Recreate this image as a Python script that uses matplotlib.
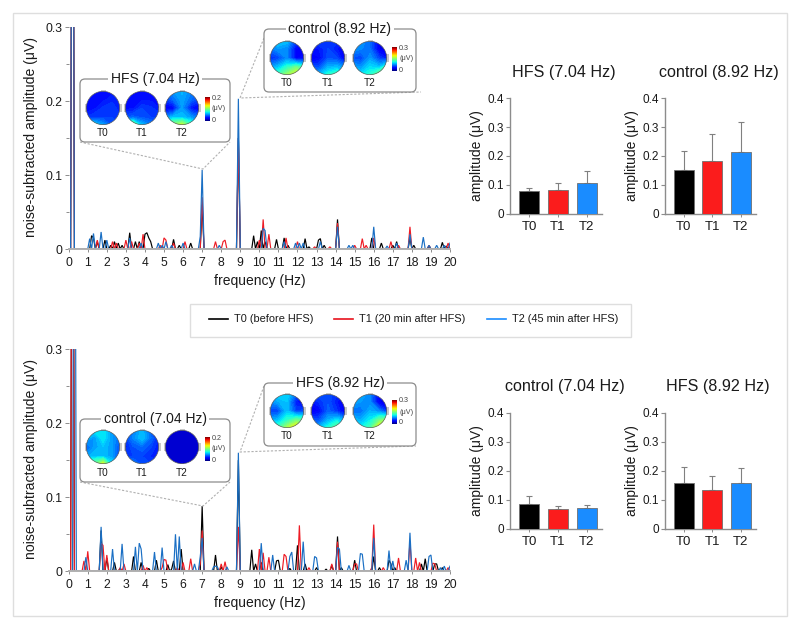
import numpy as np
import matplotlib
matplotlib.use("Agg")
import matplotlib.pyplot as plt
from matplotlib.patches import Circle, FancyBboxPatch, Rectangle

plt.rcParams["font.family"] = ["Liberation Sans", "DejaVu Sans"]

# spectra: peaks, everything else sits on the zero line
top_t0_f = [0.2, 1.2, 1.3, 1.5, 1.9, 2.2, 2.4, 2.6, 2.8, 3.2, 3.5, 3.7, 4.0, 4.1, 4.2, 4.3, 5.5, 5.8, 6.4, 7.0, 8.9,
            9.7, 9.9, 10.1, 10.3, 10.9, 11.3, 11.5, 12.4, 12.6, 13.1, 13.2, 13.4, 14.1, 15.9, 16.4, 17.0, 17.2, 17.9,
            18.1, 18.9, 19.6, 19.8]
top_t0_a = [900, 18, 15, 10, 12, 5, 10, 8, 5, 22, 10, 10, 20, 22, 15, 10, 13, 5, 8, 60, 150,
            18, 10, 25, 10, 13, 15, 5, 14, 3, 12, 14, 5, 40, 15, 8, 5, 10, 15,
            5, 4, 9, 4]
top_t1_f = [0.2, 1.5, 2.3, 2.5, 3.0, 3.3, 3.7, 3.9, 4.8, 5.0, 5.1, 5.5, 6.1, 7.0, 7.7, 8.1, 8.2, 8.9, 10.0, 10.2,
            10.5, 11.4, 12.0, 12.9, 13.7, 14.1, 15.0, 15.4, 15.6, 16.0, 16.9, 17.3, 17.9, 18.9, 19.9]
top_t1_a = [900, 12, 10, 8, 12, 10, 8, 20, 5, 15, 12, 8, 10, 70, 10, 10, 12, 150, 12, 40,
            20, 15, 10, 3, 3, 35, 5, 14, 5, 15, 10, 5, 30, 5, 8]
top_t2_f = [0.2, 1.1, 1.3, 1.7, 2.0, 3.2, 3.8, 4.7, 4.9, 5.1, 5.4, 6.0, 6.9, 7.0, 7.9, 8.9, 10.2, 10.3, 11.3, 11.9,
            12.1, 12.3, 13.2, 14.1, 14.7, 14.9, 16.0, 16.7, 17.2, 17.9, 18.6, 18.9, 19.3, 19.7, 20.0]
top_t2_a = [900, 14, 21, 23, 12, 15, 8, 8, 5, 10, 5, 8, 17, 107, 5, 203, 28, 25, 10, 8,
            8, 8, 10, 30, 5, 5, 30, 4, 8, 20, 16, 5, 5, 5, 8]

bot_t0_f = [0.2, 1.7, 2.0, 2.4, 2.7, 3.4, 3.8, 4.2, 4.6, 5.2, 5.4, 5.5, 5.9, 7.0, 7.7, 8.0, 8.9, 9.6, 9.8, 10.1, 10.9,
            11.0, 11.6, 12.0, 12.4, 13.0, 13.5, 13.8, 14.1, 14.3, 15.0, 16.0, 16.3, 16.8, 16.9, 17.1, 18.5, 18.7, 19.2,
            19.3, 19.6]
bot_t0_a = [900, 55, 18, 12, 4, 20, 12, 4, 15, 9, 3, 14, 30, 88, 22, 6, 150, 29, 10, 12, 14,
            15, 4, 35, 10, 5, 3, 8, 47, 5, 15, 20, 5, 15, 10, 5, 10, 17, 10,
            10, 5]
bot_t1_f = [0.2, 0.8, 1.0, 1.7, 1.8, 2.0, 2.7, 2.9, 3.9, 4.1, 4.9, 5.0, 5.1, 5.7, 6.0, 6.4, 6.9, 7.0, 8.0, 8.2, 8.9,
            10.0, 10.2, 10.5, 11.3, 11.4, 12.1, 12.6, 13.8, 14.1, 15.0, 15.1, 15.9, 16.0, 16.5, 17.3, 17.9, 18.2, 18.4,
            19.1, 19.2, 19.9]
bot_t1_a = [900, 14, 27, 38, 35, 22, 5, 10, 8, 5, 5, 16, 15, 5, 12, 17, 10, 55, 10, 13, 60,
            30, 25, 19, 23, 20, 62, 5, 10, 40, 10, 10, 5, 63, 5, 18, 40, 18, 12,
            11, 10, 5]
bot_t2_f = [0.3, 0.9, 1.7, 2.3, 2.8, 3.5, 3.7, 3.8, 4.5, 4.9, 5.6, 5.8, 6.6, 6.9, 7.0, 7.6, 7.7, 7.8, 8.3, 8.9, 10.1,
            10.7, 11.6, 11.7, 12.3, 12.9, 13.0, 14.1, 14.2, 14.7, 15.3, 15.4, 16.0, 16.8, 17.0, 17.7, 17.9, 18.9, 19.0,
            19.5, 19.7, 20.0]
bot_t2_a = [900, 19, 60, 30, 37, 33, 38, 30, 26, 32, 50, 47, 10, 20, 45, 6, 7, 6, 6, 160, 38,
            22, 20, 26, 40, 20, 18, 32, 30, 8, 24, 23, 45, 28, 14, 15, 52, 20, 22,
            5, 7, 7]

# bar panels
bar_labels = ["T0", "T1", "T2"]
hfs7_mean = [0.078, 0.083, 0.106]
hfs7_err = [0.010, 0.025, 0.043]
ctrl9_mean = [0.153, 0.182, 0.213]
ctrl9_err = [0.066, 0.095, 0.105]
ctrl7_mean = [0.086, 0.068, 0.070]
ctrl7_err = [0.026, 0.012, 0.013]
hfs9_mean = [0.158, 0.132, 0.159]
hfs9_err = [0.055, 0.050, 0.049]

# scalp maps, fraction of the colour scale, rows from front to back
hfs7_maps = [
    [[.12, .14, .14, .14, .12], [.14, .13, .14, .16, .16], [.12, .14, .18, .20, .15], [.18, .20, .20, .20, .18], [.30, .42, .32, .22, .20]],
    [[.10, .10, .12, .12, .10], [.15, .14, .14, .14, .14], [.14, .14, .20, .18, .15], [.22, .24, .22, .20, .20], [.50, .62, .35, .28, .22]],
    [[.25, .30, .33, .28, .25], [.20, .25, .32, .25, .20], [.10, .12, .30, .15, .10], [.28, .35, .35, .30, .25], [.45, .62, .70, .50, .35]],
]
ctrl9_maps = [
    [[.30, .38, .35, .20, .20], [.25, .30, .28, .12, .10], [.17, .20, .28, .12, .14], [.30, .35, .45, .55, .45], [.45, .50, .62, .72, .60]],
    [[.20, .22, .20, .18, .12], [.14, .15, .20, .15, .08], [.10, .12, .22, .20, .10], [.22, .22, .33, .35, .28], [.30, .35, .45, .50, .35]],
    [[.30, .30, .25, .10, .10], [.30, .28, .25, .10, .08], [.22, .20, .30, .20, .15], [.32, .30, .38, .35, .50], [.40, .40, .45, .62, .70]],
]
ctrl7_maps = [
    [[.30, .40, .40, .30, .35], [.35, .30, .40, .30, .25], [.22, .30, .35, .30, .20], [.30, .35, .35, .30, .20], [.45, .55, .72, .40, .25]],
    [[.20, .25, .35, .22, .15], [.18, .28, .35, .25, .15], [.15, .22, .25, .20, .15], [.20, .20, .20, .17, .17], [.30, .30, .22, .20, .18]],
    [[.06, .06, .06, .06, .06], [.06, .07, .06, .07, .06], [.06, .06, .07, .06, .06], [.06, .07, .06, .07, .06], [.06, .06, .08, .06, .06]],
]
hfs9_maps = [
    [[.30, .38, .38, .25, .20], [.28, .32, .35, .15, .10], [.20, .20, .35, .20, .22], [.32, .35, .45, .55, .50], [.48, .50, .65, .78, .65]],
    [[.20, .22, .22, .18, .12], [.14, .18, .22, .15, .08], [.10, .12, .24, .18, .10], [.22, .22, .33, .40, .30], [.30, .35, .45, .55, .40]],
    [[.32, .33, .28, .12, .12], [.32, .30, .28, .10, .08], [.25, .25, .33, .28, .18], [.35, .33, .40, .55, .62], [.45, .42, .50, .78, .80]],
]

T0_COLOR = "#000000"
T1_COLOR = "#ee1c25"
T2_COLOR = "#1a6fc4"
BAR_COLORS = ["#000000", "#fb1c1c", "#1a8cff"]
GREY = "#8c8c8c"
TEXT = "#1a1a1a"

W, H = 800, 629
fig = plt.figure(figsize=(W / 100, H / 100), dpi=100)


def px_axes(left, top, right, bottom):
    return fig.add_axes([left / W, 1 - bottom / H, (right - left) / W, (bottom - top) / H])


# overlay in pixel coordinates for frames, call-outs and legend
over = fig.add_axes([0, 0, 1, 1])
over.set_xlim(0, W)
over.set_ylim(H, 0)
over.axis("off")
over.set_zorder(5)
over.patch.set_alpha(0)


def spectrum(top, bottom, series):
    ax = px_axes(68.7, top, 450, bottom)
    freqs = np.arange(201) / 10
    for f, a, color in series:
        amp = np.zeros(201)
        amp[np.round(np.array(f) * 10).astype(int)] = np.array(a) / 1000
        ax.plot(freqs, amp, color=color, lw=0.85, solid_joinstyle="miter")
    ax.set_xlim(0, 20)
    ax.set_ylim(0, 0.3)
    ax.set_xticks(range(0, 21))
    ax.set_yticks([0, 0.1, 0.2, 0.3])
    ax.set_yticklabels(["0", "0.1", "0.2", "0.3"])
    ax.set_yticks([0.05, 0.15, 0.25], minor=True)
    ax.tick_params(axis="both", which="both", color=GREY, width=0.7, labelsize=8.7, labelcolor=TEXT)
    ax.tick_params(axis="x", length=2, pad=3.5)
    ax.tick_params(axis="y", which="major", length=3, pad=1.5)
    ax.tick_params(axis="y", which="minor", length=2)
    for side in ["top", "right", "left"]:
        ax.spines[side].set_visible(False)
    ax.spines["bottom"].set_color("#b0b0b0")
    ax.spines["bottom"].set_linewidth(1.4)
    ax.spines["bottom"].set_zorder(6)
    ax.set_xlabel("frequency (Hz)", fontsize=10, color=TEXT, va="center")
    ax.xaxis.set_label_coords(0.5, -32 / (bottom - top))
    ax.set_ylabel("noise-subtracted amplitude (μV)", fontsize=10.1, color=TEXT, va="center")
    ax.yaxis.set_label_coords((31 - 68.7) / 381.3, 0.505)
    return ax


def bars(left, right, top, bottom, title, title_x, title_y, means, errs):
    ax = px_axes(left, top, right, bottom)
    x = np.arange(3)
    ax.bar(x, means, width=0.7, color=BAR_COLORS, edgecolor="#707070", linewidth=0.6, zorder=3)
    ax.errorbar(x, means, yerr=[[0, 0, 0], errs], fmt="none", ecolor="#808080", elinewidth=0.8,
                capsize=2, capthick=0.8, zorder=2)
    ax.set_xlim(-0.66, 2.53)
    ax.set_ylim(0, 0.4)
    ax.set_xticks(x)
    ax.set_xticklabels(bar_labels, fontsize=9.5, color=TEXT)
    ax.set_yticks([0, 0.1, 0.2, 0.3, 0.4])
    ax.set_yticklabels(["0", "0.1", "0.2", "0.3", "0.4"], fontsize=8.5, color=TEXT)
    ax.tick_params(axis="x", length=2, color=GREY, width=0.7, pad=3)
    ax.tick_params(axis="y", length=3, color=GREY, width=0.8, pad=1.5)
    for side in ["top", "right"]:
        ax.spines[side].set_visible(False)
    for side in ["left", "bottom"]:
        ax.spines[side].set_color(GREY)
        ax.spines[side].set_linewidth(1.0)
    ax.set_ylabel("amplitude (μV)", fontsize=10, color=TEXT, va="center")
    ax.yaxis.set_label_coords(-33 / (right - left), 0.5)
    over.text(title_x, title_y, title, fontsize=11.6, color=TEXT, ha="center", va="center")


def inset(x0, y0, x1, y1, title, maps, centers, map_y, label_y, bar_x, bar_top, scale_top):
    over.add_patch(FancyBboxPatch((x0 + 4, y0 + 4), x1 - x0 - 8, y1 - y0 - 8, boxstyle="round,pad=4,rounding_size=5",
                                  fc="white", ec=GREY, lw=0.9, zorder=3))
    over.text((x0 + x1) / 2, y0, title, fontsize=10, color=TEXT, ha="center", va="center", zorder=4,
              bbox=dict(fc="white", ec="none", pad=1.8))
    r = 17
    for m, cx, name in zip(maps, centers, bar_labels):
        for sx in (-1, 1):
            over.add_patch(Rectangle((cx + sx * r - 1.5, map_y - 4), 3, 8, fc="#c8c8c8", ec="none", zorder=3.5))
        over.add_patch(Rectangle((cx - 2.5, map_y - r - 1.5), 5, 2.5, fc="#c8c8c8", ec="none", zorder=3.5))
        ax = px_axes(cx - r, map_y - r, cx + r, map_y + r)
        ax.set_zorder(6)
        ax.axis("off")
        nodes = np.array([-1.05, -0.55, 0, 0.55, 1.05])
        cs = ax.contourf(nodes, nodes[::-1], m, levels=np.linspace(0, 1, 41), cmap="jet", vmin=-0.02, vmax=1.15)
        cs.set_clip_path(Circle((0, 0), 1, transform=ax.transData))
        ax.set_xlim(-1.02, 1.02)
        ax.set_ylim(-1.02, 1.02)
        ax.add_patch(Circle((0, 0), 1, fc="none", ec="#606060", lw=0.5))
        over.text(cx, label_y, name, fontsize=7.2, color=TEXT, ha="center", va="center", zorder=4)
    cax = px_axes(bar_x, bar_top, bar_x + 5, bar_top + 24)
    cax.set_zorder(6)
    cax.axis("off")
    cax.imshow(np.linspace(1, 0, 64).reshape(-1, 1), cmap="jet", aspect="auto")
    over.text(bar_x + 7, bar_top + 1, scale_top, fontsize=5.2, color="#444444", va="center", zorder=4)
    over.text(bar_x + 7, bar_top + 12, "(μV)", fontsize=5.2, color="#444444", va="center", zorder=4)
    over.text(bar_x + 7, bar_top + 23, "0", fontsize=5.2, color="#444444", va="center", zorder=4)


def dotted(xs, ys):
    over.plot(xs, ys, color="#b0b0b0", lw=0.8, ls=(0, (2, 1.5)), zorder=2)


# outer frame
over.add_patch(Rectangle((13, 12.5), 774, 603.5, fc="none", ec="#dedede", lw=1.0, zorder=1))

spectrum(27, 249, [(top_t0_f, top_t0_a, T0_COLOR), (top_t1_f, top_t1_a, T1_COLOR), (top_t2_f, top_t2_a, T2_COLOR)])
spectrum(349, 571.3, [(bot_t0_f, bot_t0_a, T0_COLOR), (bot_t1_f, bot_t1_a, T1_COLOR), (bot_t2_f, bot_t2_a, T2_COLOR)])

dotted([80, 203, 230], [142, 169, 142])
dotted([264, 240, 421], [38, 98, 92])
dotted([80, 203, 230], [482, 506, 482])
dotted([264, 240, 416], [386, 452, 446])

inset(80, 79, 230, 142, "HFS (7.04 Hz)", hfs7_maps, [103, 142, 182], 108, 133, 205, 97, "0.2")
inset(264, 29, 416, 92, "control (8.92 Hz)", ctrl9_maps, [287, 328, 370], 58, 83, 392, 47, "0.3")
inset(80, 419, 230, 482, "control (7.04 Hz)", ctrl7_maps, [103, 142, 182], 447, 473, 205, 437, "0.2")
inset(264, 383, 416, 446, "HFS (8.92 Hz)", hfs9_maps, [287, 328, 370], 411, 436, 392, 400, "0.3")

bars(510, 602, 98.3, 213.7, "HFS (7.04 Hz)", 564, 72, hfs7_mean, hfs7_err)
bars(665, 755.7, 98.3, 213.7, "control (8.92 Hz)", 719, 72, ctrl9_mean, ctrl9_err)
bars(510, 602, 412.7, 528.7, "control (7.04 Hz)", 565, 387, ctrl7_mean, ctrl7_err)
bars(665, 755.7, 412.7, 528.7, "HFS (8.92 Hz)", 718, 387, hfs9_mean, hfs9_err)

# shared legend
over.add_patch(Rectangle((190, 303.5), 441, 33, fc="white", ec="#dedede", lw=1.0, zorder=2))
legend_items = [("T0 (before HFS)", "#000000", 209), ("T1 (20 min after HFS)", "#e8121c", 334),
                ("T2 (45 min after HFS)", "#1a8cff", 487)]
for label, color, lx in legend_items:
    over.plot([lx, lx + 19], [319, 319], color=color, lw=1.2, zorder=3)
    over.text(lx + 25, 319, label, fontsize=7.9, color=TEXT, va="center", zorder=3)

fig.savefig("out.png", dpi=100)
plt.close(fig)
